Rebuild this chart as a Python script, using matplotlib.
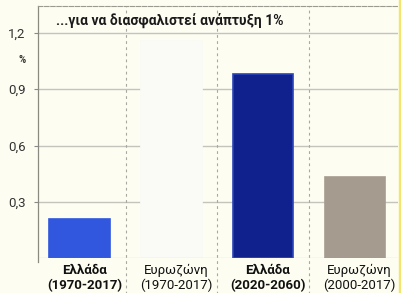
import matplotlib.pyplot as plt

plt.rcParams['font.family'] = ['Roboto', 'DejaVu Sans']

# data
names = ['Ελλάδα', 'Ευρωζώνη', 'Ελλάδα', 'Ευρωζώνη']
periods = ['(1970-2017)', '(1970-2017)', '(2020-2060)', '(2000-2017)']
bold_label = [True, False, True, False]
values = [0.21, 1.16, 0.98, 0.43]
bar_colors = ['#3257df', '#fafaf6', '#10208c', '#a59c8f']
edge_colors = ['#3257df', '#fafaf6', '#2a44b8', '#a59c8f']
yticks = [0.3, 0.6, 0.9, 1.2]
ytick_labels = ['0,3', '0,6', '0,9', '1,2']
title = '...για να διασφαλιστεί ανάπτυξη 1%'

bg = '#fdfdf2'
fig = plt.figure(figsize=(4.02, 2.93), dpi=100, facecolor=bg)
ax = fig.add_axes([38 / 402, 35 / 293, 360 / 402, 252 / 293], facecolor=bg)

# yellow strip at the right edge of the page
fig.patches.append(plt.Rectangle((399 / 402, 0), 3 / 402, 1, transform=fig.transFigure,
                                 color='#f3e46a', zorder=0))

x = list(range(len(values)))
ax.bar(x, values, width=0.66, color=bar_colors, edgecolor=edge_colors,
       linewidth=1.2, zorder=3)

ax.set_xlim(-0.455, 3.47)
ax.set_ylim(0, 1.344)

for v in yticks:
    ax.axhline(v, color='#c4c4bc', lw=1.0, zorder=1)

for sx in [0.5, 1.5, 2.5]:
    ax.plot([sx, sx], [-0.19, 1.344], color='#a8a8a0', lw=0.8,
            ls=(0, (2.5, 3)), clip_on=False, zorder=2)

ax.set_yticks(yticks)
ax.set_yticklabels(ytick_labels, fontsize=9.5, color='#333333')
ax.tick_params(axis='y', length=3, width=0.8, color='#888888', pad=6)
ax.set_xticks([])

for s in ['right', 'bottom']:
    ax.spines[s].set_visible(False)
ax.spines['left'].set_color('#8a8a80')
ax.spines['left'].set_linewidth(0.9)
ax.spines['left'].set_bounds(-0.02, 1.344)
ax.spines['top'].set_color('#9a9a90')
ax.spines['top'].set_linestyle((0, (4, 1.5)))
ax.spines['top'].set_linewidth(0.8)
ax.axhline(0, color='#9a9a90', lw=0.8, zorder=4)

ax.text(-0.26, 1.265, title, fontsize=10, fontweight='bold', color='#1a1a1a',
        va='center', ha='left', zorder=5)
ax.text(-0.63, 1.055, '%', fontsize=7, fontweight='bold', color='#333333',
        ha='center', va='center', clip_on=False)

for i in x:
    w = 'bold' if bold_label[i] else 'normal'
    ax.text(i + 0.05, -0.065, names[i], fontsize=9.5, fontweight=w, color='#111111',
            ha='center', va='center', clip_on=False)
    ax.text(i + 0.05, -0.148, periods[i], fontsize=9.5, fontweight=w, color='#111111',
            ha='center', va='center', clip_on=False)

fig.savefig('out.png', dpi=100, facecolor=bg)
